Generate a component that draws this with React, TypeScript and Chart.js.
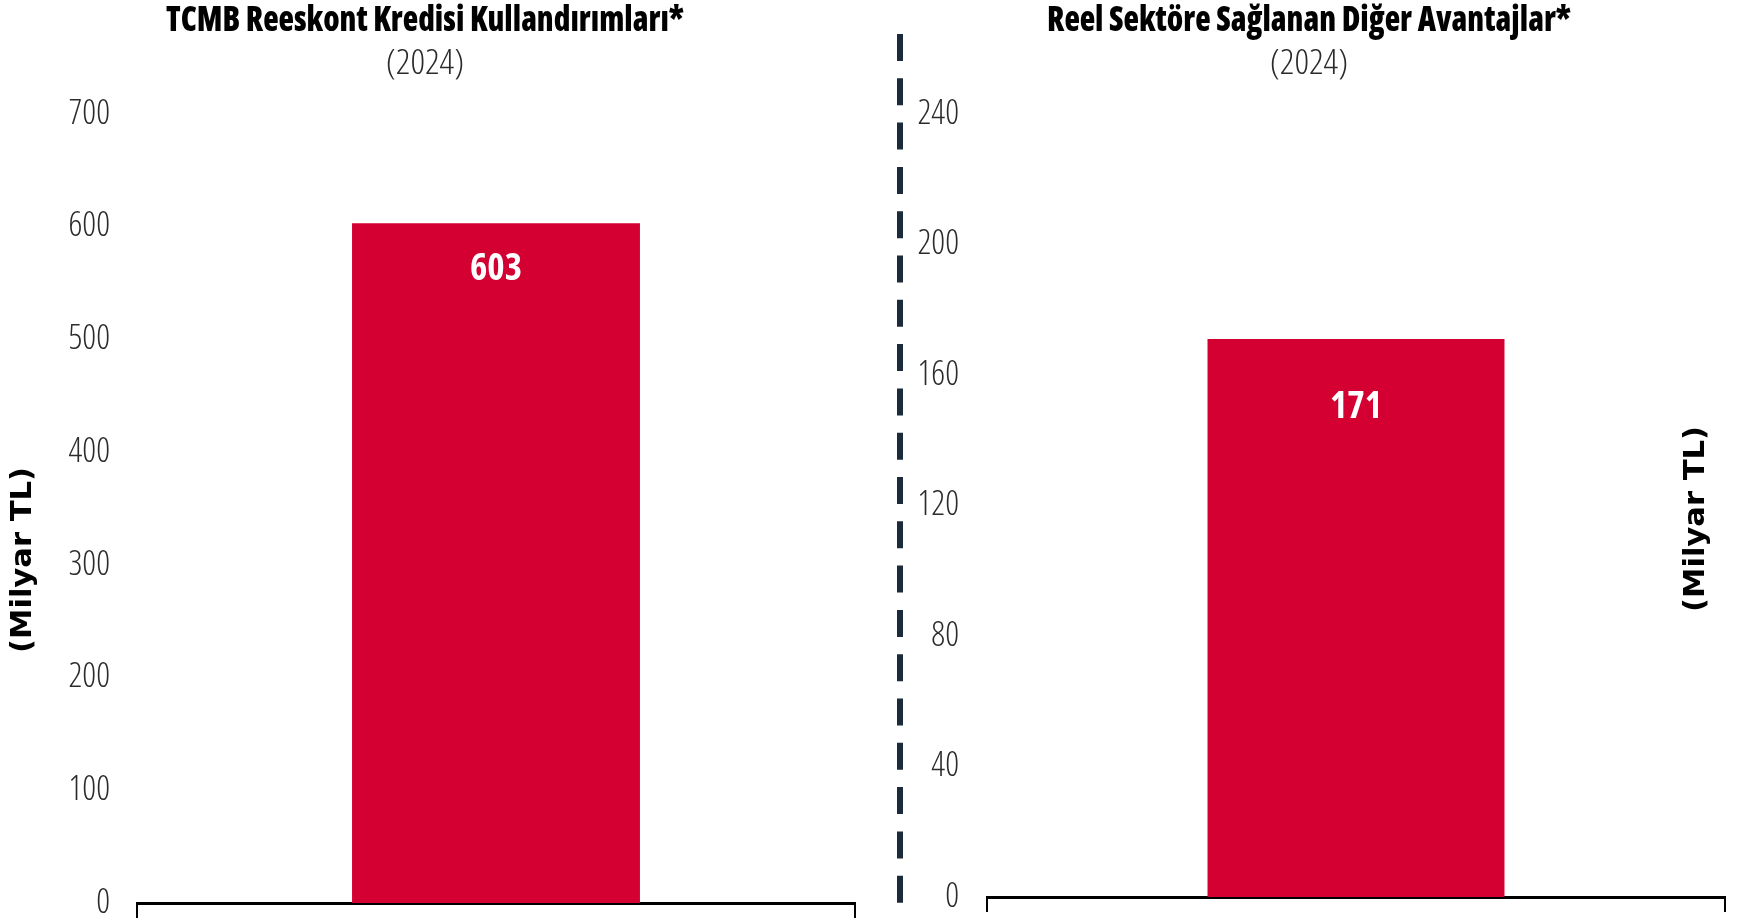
import React, { useEffect, useRef } from "react";
import { Chart, registerables } from "chart.js";

Chart.register(...registerables);

// ---------- data ----------
const leftCategories = ["2024"];
const leftValues = [603];
const leftTicks = [0, 100, 200, 300, 400, 500, 600, 700];
const rightCategories = ["2024"];
const rightValues = [171];
const rightTicks = [0, 40, 80, 120, 160, 200, 240];
const leftTitle = "TCMB Reeskont Kredisi Kullandırımları*";
const rightTitle = "Reel Sektöre Sağlanan Diğer Avantajlar*";
const subTitle = "(2024)";
const unitLabel = "(Milyar TL)";

// ---------- style ----------
const BAR_COLOR = "#D40032";
const TEXT_COLOR = "#000000";
const TICK_COLOR = "#2b2b2b";
const DIVIDER_COLOR = "#1B2B3B";

function drawText(
  ctx: CanvasRenderingContext2D,
  text: string,
  x: number,
  y: number,
  font: string,
  color: string,
  targetWidth: number | null,
  rotate = 0
) {
  ctx.save();
  ctx.font = font;
  ctx.fillStyle = color;
  ctx.textAlign = "center";
  ctx.textBaseline = "middle";
  const w = ctx.measureText(text).width;
  const sx = targetWidth ? targetWidth / w : 1;
  ctx.translate(x, y);
  if (rotate) ctx.rotate(rotate);
  ctx.scale(sx, 1);
  ctx.fillText(text, 0, 0);
  ctx.restore();
}

type Decor = {
  title: string;
  titleX: number;
  titleW: number;
  subW: number;
  unitX: number;
  unitY: number;
  labelOffset: number;
  values: number[];
  divider: boolean;
};

function decorPlugin(d: Decor) {
  return {
    id: "decor",
    afterDraw(chart: any) {
      const ctx: CanvasRenderingContext2D = chart.ctx;
      const area = chart.chartArea;
      drawText(ctx, d.title, d.titleX, 21, "800 condensed 35px 'Open Sans'", TEXT_COLOR, d.titleW);
      drawText(ctx, subTitle, d.titleX, 64, "300 condensed 34px 'Open Sans'", TICK_COLOR, d.subW);
      drawText(ctx, unitLabel, d.unitX, d.unitY, "bold 28px 'DejaVu Sans'", TEXT_COLOR, 186, -Math.PI / 2);
      // bar value labels
      const meta = chart.getDatasetMeta(0);
      meta.data.forEach((bar: any, i: number) => {
        drawText(
          ctx,
          String(d.values[i]),
          bar.x,
          bar.y + d.labelOffset,
          "bold semi-condensed 37px 'Open Sans'",
          "#ffffff",
          null
        );
      });
      // axis end ticks
      ctx.save();
      ctx.strokeStyle = "#000";
      ctx.lineWidth = 2;
      ctx.beginPath();
      ctx.moveTo(area.left, area.bottom);
      ctx.lineTo(area.left, area.bottom + 15);
      ctx.moveTo(area.right, area.bottom);
      ctx.lineTo(area.right, area.bottom + 15);
      ctx.stroke();
      ctx.restore();
      if (d.divider) {
        ctx.save();
        ctx.strokeStyle = DIVIDER_COLOR;
        ctx.lineWidth = 6;
        ctx.setLineDash([27, 17.3]);
        ctx.beginPath();
        ctx.moveTo(900, 34);
        ctx.lineTo(900, 903);
        ctx.stroke();
        ctx.restore();
      }
    },
  };
}

function makeConfig(
  labels: string[],
  values: number[],
  ticks: number[],
  max: number,
  yWidth: number,
  padRight: number,
  bottomH: number,
  tickPad: number,
  catPct: number,
  decor: Decor
): any {
  return {
    type: "bar",
    data: {
      labels,
      datasets: [
        {
          data: values,
          backgroundColor: BAR_COLOR,
          barPercentage: 1,
          categoryPercentage: catPct,
        },
      ],
    },
    options: {
      animation: false,
      responsive: false,
      maintainAspectRatio: false,
      layout: { padding: { top: 114, left: 0, right: padRight, bottom: 0 } },
      plugins: {
        legend: { display: false },
        tooltip: { enabled: false },
        title: { display: false },
      },
      scales: {
        x: {
          display: true,
          z: 1,
          grid: { display: false, drawTicks: false },
          ticks: { display: false },
          border: { display: true, color: "#000", width: 3 },
          afterFit: (s: any) => {
            s.height = bottomH;
            s.paddingLeft = 0;
            s.paddingRight = 0;
          },
        },
        y: {
          min: 0,
          max,
          afterBuildTicks: (s: any) => {
            s.ticks = ticks.map((v) => ({ value: v }));
          },
          grid: { display: false, drawTicks: false },
          border: { display: false },
          ticks: {
            padding: tickPad,
            color: TICK_COLOR,
            font: { family: "'Open Sans'", size: 34, weight: "300 condensed", lineHeight: 1 },
          },
          afterFit: (s: any) => {
            s.width = yWidth;
            s.paddingTop = 0;
            s.paddingBottom = 0;
          },
        },
      },
    },
    plugins: [decorPlugin(decor)],
  };
}

export default function App() {
  const leftRef = useRef<HTMLCanvasElement>(null);
  const rightRef = useRef<HTMLCanvasElement>(null);

  useEffect(() => {
    const left = new Chart(
      leftRef.current!,
      makeConfig(leftCategories, leftValues, leftTicks, 700, 137, 50, 18, 27, 0.401, {
        title: leftTitle,
        titleX: 425,
        titleW: 518,
        subW: 78,
        unitX: 24,
        unitY: 560,
        labelOffset: 46,
        values: leftValues,
        divider: true,
      })
    );
    const right = new Chart(
      rightRef.current!,
      makeConfig(rightCategories, rightValues, rightTicks, 240, 82, 12, 24, 28, 0.4024, {
        title: rightTitle,
        titleX: 404,
        titleW: 524,
        subW: 78,
        unitX: 792,
        unitY: 519,
        labelOffset: 68,
        values: rightValues,
        divider: false,
      })
    );
    return () => {
      left.destroy();
      right.destroy();
    };
  }, []);

  return (
    <div style={{ position: "absolute", left: 0, top: 0, width: 1737, height: 921, background: "#fff" }}>
      <canvas ref={leftRef} width={905} height={921} style={{ position: "absolute", left: 0, top: 0 }} />
      <canvas ref={rightRef} width={832} height={921} style={{ position: "absolute", left: 905, top: 0 }} />
    </div>
  );
}
